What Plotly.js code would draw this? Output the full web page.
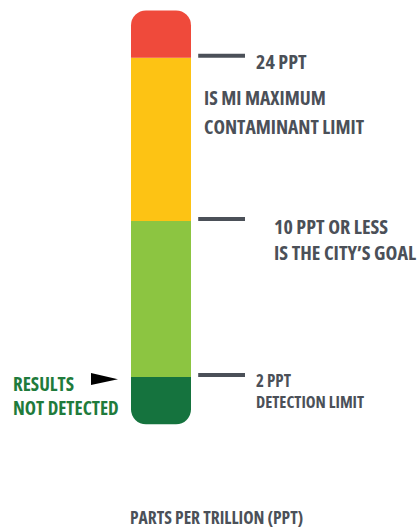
<!DOCTYPE html>
<html>
<head>
<meta charset="utf-8">
<script src="https://cdn.plot.ly/plotly-3.0.1.min.js"></script>
<style>
html,body{margin:0;padding:0;background:#fff;}
#chart{width:419px;height:529px;}
text, tspan{font-stretch:condensed !important;}
</style>
</head>
<body>
<div id="chart"></div>
<script>
// Bands of the gauge, bottom to top (drawn lengths; the gauge is not to scale)
const bandNames = ['Not detected', 'Detection limit to goal', 'Goal to MCL', 'Above MCL'];
const bandLengths = [2, 6.6, 6.9, 2];
const bandColors = ['#15733e', '#8cc541', '#fdc314', '#ef4a3b'];
// Threshold values (ppt) marked on the gauge
const thresholds = [2, 10, 24];
const thresholdLines = [
  ['2 PPT', 'DETECTION LIMIT'],
  ['10 PPT OR LESS', "IS THE CITY\u2019S GOAL"],
  ['24 PPT', 'IS MI MAXIMUM', 'CONTAMINANT LIMIT']
];
const resultLabel = ['RESULTS', 'NOT DETECTED'];
const axisTitle = 'PARTS PER TRILLION (PPT)';

const FONT = "'Open Sans', 'DejaVu Sans Condensed', sans-serif";
const GREY = '#4b5058';
const GREEN = '#1f7b3c';

// Bottom band hangs below the 2 ppt mark, others stack above it
const traces = bandLengths.map((len, i) => ({
  type: 'bar',
  x: [0],
  y: [i === 0 ? -len : len],
  name: bandNames[i],
  width: 1,
  marker: {color: bandColors[i], line: {width: 0}, cornerradius: 15},
  hoverinfo: 'skip',
  showlegend: false
}));

// cumulative boundaries in drawing units (2 ppt mark is at 0)
const bounds = [0];
for (let i = 1; i < bandLengths.length; i++) bounds.push(bounds[i - 1] + bandLengths[i]);

const PXU = 23.65;
const ymax = 377 / PXU;
const ymin = ymax - 529 / PXU;
const xmin = -161 / 60, xmax = 258 / 60;

const shapes = thresholds.map((t, i) => ({
  type: 'line', xref: 'x', yref: 'y',
  x0: 0.62, x1: 1.4,
  y0: bounds[i] + 0.08, y1: bounds[i] + 0.08,
  line: {color: GREY, width: 4}
}));
// pointer arrow at the detection limit
shapes.push({
  type: 'path', xref: 'x', yref: 'y',
  path: 'M -1.167 0.17 L -0.717 -0.09 L -1.167 -0.34 Z',
  fillcolor: '#000', line: {width: 0}
});

const ann = [];
function txt(text, xpx, y, yshift, size, color) {
  ann.push({text: text, xref: 'paper', yref: 'y', x: xpx / 419, y: y, yshift: yshift,
    xanchor: 'left', yanchor: 'middle', showarrow: false,
    font: {family: FONT, size: size, color: color, weight: 700}});
}
// 2 ppt
txt(thresholdLines[0][0], 254, bounds[0], -3.5, 17, GREY);
txt(thresholdLines[0][1], 254, bounds[0], -24.5, 16.5, GREY);
// 10 ppt
txt(thresholdLines[1][0], 272, bounds[1], -6, 20, GREY);
txt(thresholdLines[1][1], 272, bounds[1], -32, 20, GREY);
// 24 ppt
txt(thresholdLines[2][0], 254, bounds[2], -4, 20, GREY);
txt(thresholdLines[2][1], 202, bounds[2], -40, 19.5, GREY);
txt(thresholdLines[2][2], 202, bounds[2], -69, 19.5, GREY);
// results
txt(resultLabel[0], 11, bounds[0], -6.5, 19, GREEN);
txt(resultLabel[1], 11, bounds[0], -31, 19, GREEN);
// axis title
ann.push({text: axisTitle, xref: 'paper', yref: 'paper', x: 216 / 419, y: 1 - 517 / 529,
  xanchor: 'center', yanchor: 'middle', showarrow: false,
  font: {family: FONT, size: 17.5, color: GREY, weight: 700}});

const layout = {
  width: 419, height: 529,
  margin: {l: 0, r: 0, t: 0, b: 0},
  paper_bgcolor: '#fff', plot_bgcolor: '#fff',
  barmode: 'relative',
  xaxis: {range: [xmin, xmax], visible: false, fixedrange: true},
  yaxis: {range: [ymin, ymax], visible: false, fixedrange: true},
  shapes: shapes,
  annotations: ann,
  showlegend: false
};

Plotly.newPlot('chart', traces, layout, {displayModeBar: false, staticPlot: true});
</script>
</body>
</html>
